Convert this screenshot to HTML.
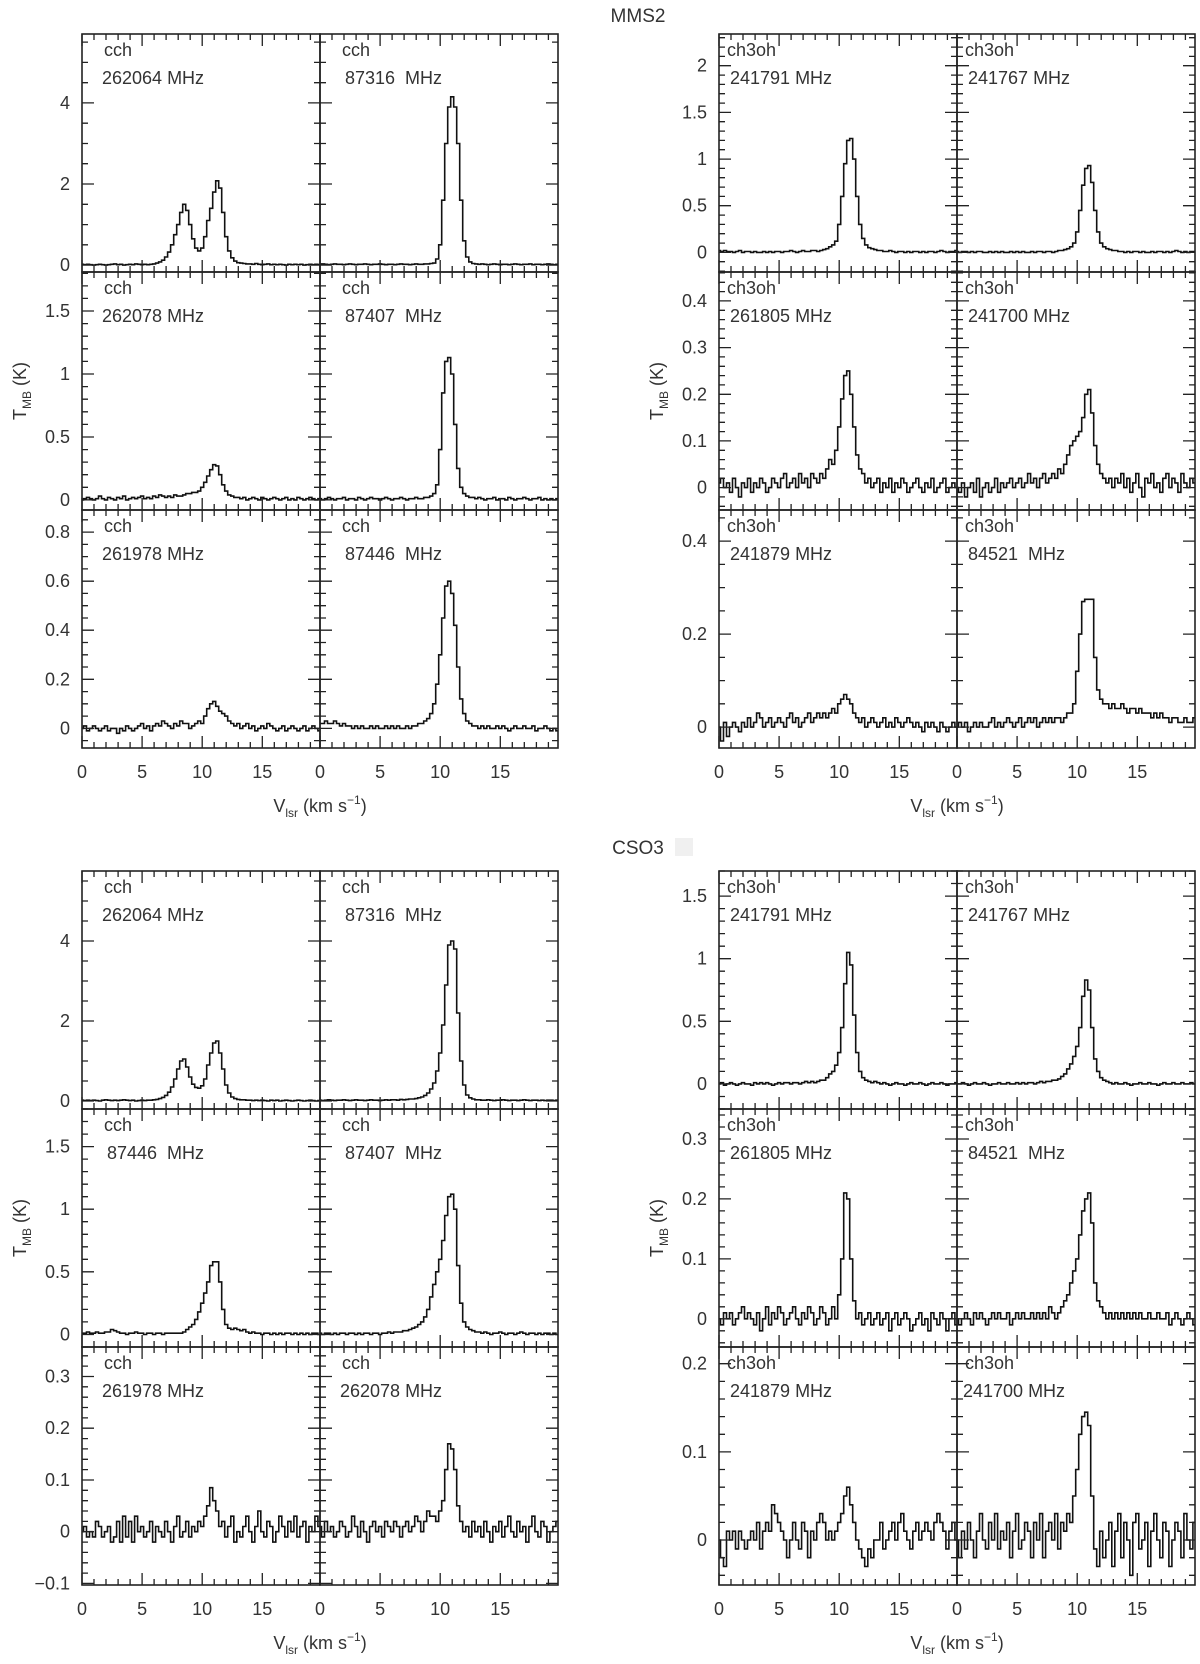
<!DOCTYPE html>
<html><head><meta charset="utf-8">
<style>
html,body{margin:0;padding:0;background:#fff;}
svg{display:block;}
text{font-family:"Liberation Sans",sans-serif;fill:#333;}
</style></head>
<body>
<svg id="fig" width="1200" height="1664" viewBox="0 0 1200 1664" xmlns="http://www.w3.org/2000/svg"></svg>
<script>
// channel width (km/s) and x-axis range
const chanWidth = 0.25;
const xRange = [0, 19.8];
const xTickLabels = ["0","5","10","15"];
const xTickValues = [0,5,10,15];

// ---- MMS2 ----
const mA1 = [0.02,0.01,0.02,0.01,0.0,0.01,0.02,0.01,0,0.01,0.02,0.03,0.01,0.02,0,0.01,0.02,0.01,0.03,0.02,0.01,0.02,0.01,0.02,0.03,0.05,0.08,0.12,0.2,0.32,0.5,0.75,1.0,1.3,1.5,1.35,1.0,0.65,0.42,0.35,0.42,0.7,1.1,1.4,1.8,2.08,1.9,1.3,0.7,0.35,0.18,0.1,0.06,0.05,0.04,0.03,0.03,0.02,0.04,0.02,0.01,0.02,0.03,0.01,0.02,0.01,0.02,0.01,0.0,0.02,0.01,0.02,0.01,0.02,0.0,0.01,0.02,0.01,0.02,0.01];
const mA2 = [0.02,0.03,0.02,0.01,0.02,0.03,0.02,0.02,0.01,0.02,0.03,0.02,0.01,0.02,0.02,0.03,0.02,0.01,0.02,0.02,0.03,0.02,0.01,0.02,0.02,0.01,0.02,0.03,0.02,0.02,0.01,0.02,0.03,0.02,0.02,0.03,0.03,0.04,0.05,0.15,0.5,1.6,3.0,3.9,4.15,3.9,3.0,1.6,0.6,0.2,0.08,0.04,0.03,0.02,0.03,0.02,0.01,0.02,0.03,0.02,0.01,0.02,0.02,0.01,0.02,0.03,0.02,0.01,0.02,0.02,0.03,0.01,0.02,0.02,0.01,0.02,0.03,0.02,0.01,0.02];
const mB1 = [0.0,0.01,0.02,0.01,0.0,0.01,0.03,0.01,0.0,0.02,0.01,0.0,0.02,0.01,0.03,0.0,0.01,0.02,0.01,0.02,0.03,0.01,0.02,0.01,0.03,0.02,0.04,0.03,0.02,0.03,0.02,0.04,0.03,0.03,0.04,0.05,0.05,0.06,0.06,0.07,0.1,0.14,0.19,0.24,0.28,0.27,0.2,0.12,0.07,0.04,0.03,0.02,0.02,0.01,0.02,0.0,0.01,0.02,0.01,0.0,0.02,0.01,0.0,0.01,0.02,0.01,0.0,0.01,0.02,0.0,0.01,0.0,0.02,0.01,0.0,0.01,0.02,0.01,0.0,0.01];
const mB2 = [0.01,0.0,0.01,0.02,0.01,0.0,0.01,0.01,0.02,0.0,0.01,0.01,0.0,0.02,0.01,0.0,0.01,0.02,0.01,0.01,0.0,0.01,0.02,0.01,0.0,0.01,0.01,0.02,0.01,0.0,0.01,0.01,0.02,0.01,0.01,0.02,0.02,0.03,0.05,0.12,0.4,0.85,1.1,1.13,1.0,0.6,0.25,0.1,0.05,0.03,0.02,0.02,0.01,0.02,0.01,0.0,0.01,0.01,0.02,0.0,0.01,0.01,0.0,0.02,0.01,0.0,0.01,0.01,0.02,0.01,0.0,0.01,0.01,0.02,0.0,0.01,0.0,0.01,0.0,0.01];
const mC1 = [0.0,0.01,-0.01,0.0,0.01,0.0,-0.01,0.0,0.01,-0.01,0.0,0.0,-0.02,0.0,-0.01,0.01,0.0,-0.01,0.0,0.01,0.02,0.0,0.01,-0.01,0.01,0.02,0.01,0.03,0.02,0.01,0.0,0.02,0.01,0.03,0.02,0.02,0.0,0.01,0.02,0.03,0.02,0.05,0.08,0.1,0.11,0.09,0.07,0.06,0.05,0.03,0.02,0.01,0.02,0.0,0.01,0.02,0.0,0.01,-0.01,0.0,0.01,0.0,0.02,0.01,0.0,-0.01,0.0,0.01,-0.01,0.0,0.01,0.0,-0.01,0.0,0.01,-0.01,0.0,0.01,0.0,-0.01];
const mC2 = [0.02,0.02,0.03,0.02,0.02,0.03,0.02,0.01,0.02,0.01,0.01,0.0,0.01,0.0,0.01,0.0,0.0,0.01,0.0,0.01,0.0,0.0,0.01,0.0,0.01,0.0,0.01,0.0,0.0,0.01,0.0,0.01,0.01,0.02,0.02,0.03,0.04,0.06,0.1,0.18,0.3,0.45,0.58,0.6,0.55,0.42,0.25,0.12,0.06,0.03,0.02,0.01,0.01,0.0,0.01,0.0,0.01,0.0,0.0,0.01,0.0,0.01,0.0,-0.01,0.0,0.01,0.0,0.0,0.01,0.0,0.0,0.01,-0.01,0.0,0.0,0.01,0.0,-0.01,0.0,-0.01];
const mD1 = [0.02,0.01,0.02,0.01,0.01,0.0,0.01,0.02,0.0,0.01,0.01,0.0,0.01,0.0,0.0,0.01,0.0,0.01,0.0,0.01,0.01,0.0,0.01,0.01,0.02,0.01,0.0,0.01,0.02,0.01,0.01,0.02,0.02,0.01,0.02,0.03,0.04,0.06,0.08,0.12,0.3,0.6,0.95,1.2,1.22,1.0,0.6,0.3,0.15,0.08,0.05,0.04,0.03,0.02,0.02,0.01,0.01,0.02,0.01,0.0,0.01,0.01,0.0,0.01,0.0,0.01,0.01,0.0,0.01,0.0,0.01,0.01,0.0,0.01,0.02,0.01,0.0,0.01,0.01,0.02];
const mD2 = [0.01,0.0,0.01,0.01,0.0,0.01,0.0,0.01,0.01,0.0,0.0,0.01,0.0,0.01,0.0,0.01,0.0,0.0,0.01,0.0,0.01,0.0,0.01,0.0,0.0,0.01,0.0,0.01,0.01,0.0,0.01,0.01,0.0,0.01,0.02,0.02,0.03,0.04,0.06,0.1,0.22,0.45,0.72,0.9,0.93,0.75,0.45,0.22,0.1,0.06,0.04,0.03,0.02,0.02,0.01,0.01,0.0,0.01,0.0,0.01,0.01,0.0,0.01,0.0,0.0,0.01,0.0,0.01,0.01,0.0,0.01,0.0,0.01,0.02,0.01,0.0,0.01,0.0,0.01,0.01];
const mE1 = [0.01,0.02,0.0,0.01,-0.01,0.02,0.0,-0.02,0.01,0.0,0.02,-0.01,0.01,0.0,0.02,0.01,-0.01,0.0,0.02,0.01,0.0,0.02,0.03,0.0,0.01,0.02,0.0,0.03,0.01,0.02,0.0,0.03,0.02,0.01,0.03,0.02,0.04,0.06,0.05,0.08,0.13,0.19,0.24,0.25,0.2,0.13,0.07,0.04,0.03,0.01,0.02,0.0,0.01,0.02,-0.01,0.01,0.0,0.02,-0.01,0.01,0.0,0.02,0.01,-0.01,0.0,0.01,0.02,0.0,-0.01,0.01,0.0,0.02,-0.01,0.0,0.01,0.02,-0.01,0.0,0.01,0.0];
const mE2 = [0.0,-0.01,0.01,-0.02,0.0,0.01,-0.01,0.02,-0.02,0.0,0.01,-0.01,0.0,0.02,-0.01,0.01,0.0,0.01,0.02,0.0,0.01,0.02,0.0,0.01,0.03,0.01,0.02,0.0,0.02,0.03,0.01,0.02,0.03,0.02,0.04,0.03,0.05,0.07,0.09,0.1,0.11,0.12,0.15,0.2,0.21,0.16,0.09,0.05,0.03,0.02,0.01,0.02,0.0,0.02,0.01,0.03,0.0,0.02,-0.01,0.01,0.03,0.0,-0.02,0.02,0.01,0.03,0.0,0.01,-0.01,0.02,0.03,0.0,0.02,0.01,-0.01,0.03,0.01,0.0,0.02,0.01];
const mF1 = [0.0,-0.03,0.01,-0.02,0.0,0.01,0.0,-0.01,0.01,0.0,0.02,0.0,0.01,0.03,0.02,0.0,0.01,0.02,0.0,0.01,0.02,0.01,0.0,0.02,0.03,0.01,0.02,0.0,0.01,0.02,0.03,0.01,0.02,0.03,0.02,0.03,0.02,0.03,0.04,0.03,0.05,0.06,0.07,0.06,0.05,0.03,0.02,0.01,0.02,0.0,0.01,0.02,0.01,0.0,0.01,0.02,0.0,0.01,0.0,0.02,0.01,0.0,0.01,0.02,0.01,0.0,0.01,0.0,-0.01,0.01,0.0,0.01,0.0,-0.01,0.01,0.0,-0.01,0.0,0.01,0.0];
const mF2 = [0.0,0.01,0.0,0.01,-0.01,0.0,0.01,0.0,0.01,0.0,0.0,0.01,0.02,0.0,0.01,0.0,0.01,0.02,0.01,0.0,0.01,0.02,0.0,0.01,0.02,0.01,0.02,0.0,0.01,0.02,0.01,0.02,0.01,0.02,0.02,0.01,0.02,0.03,0.03,0.05,0.12,0.2,0.27,0.275,0.275,0.275,0.15,0.08,0.06,0.05,0.05,0.04,0.05,0.04,0.04,0.05,0.04,0.03,0.04,0.04,0.03,0.04,0.03,0.03,0.03,0.02,0.03,0.02,0.03,0.02,0.02,0.01,0.02,0.02,0.01,0.01,0.02,0.01,0.01,0.02];

// ---- CSO3 ----
const cA1 = [0.02,0.01,0.02,0.01,0.02,0.01,0.0,0.02,0.03,0.02,0.01,0.02,0.01,0.02,0.03,0.02,0.01,0.02,0.0,0.01,0.02,0.01,0.02,0.02,0.03,0.04,0.06,0.09,0.14,0.22,0.35,0.55,0.8,1.0,1.05,0.85,0.6,0.42,0.34,0.32,0.38,0.55,0.9,1.2,1.45,1.5,1.2,0.8,0.4,0.2,0.1,0.06,0.04,0.03,0.03,0.02,0.02,0.01,0.02,0.01,0.02,0.01,0.0,0.02,0.01,0.02,0.0,0.01,0.02,0.01,0.0,0.01,0.02,0.01,0.0,0.01,0.02,0.01,0.0,0.01];
const cA2 = [0.02,0.01,0.02,0.03,0.02,0.01,0.02,0.02,0.03,0.02,0.01,0.02,0.03,0.02,0.02,0.01,0.02,0.03,0.02,0.02,0.01,0.02,0.03,0.02,0.03,0.03,0.02,0.04,0.03,0.04,0.05,0.05,0.06,0.08,0.1,0.14,0.2,0.3,0.45,0.75,1.2,1.9,2.9,3.9,4.0,3.8,2.2,1.0,0.4,0.15,0.08,0.05,0.03,0.03,0.02,0.02,0.03,0.02,0.01,0.02,0.02,0.03,0.02,0.01,0.02,0.02,0.01,0.02,0.03,0.02,0.01,0.02,0.02,0.01,0.02,0.01,0.02,0.02,0.01,0.02];
const cB1 = [0.01,0.01,0.02,0.01,0.01,0.02,0.01,0.01,0.02,0.02,0.04,0.03,0.02,0.01,0.01,0.0,0.01,0.01,0.02,0.01,0.01,0.0,0.01,0.01,0.0,0.01,0.01,0.0,0.01,0.01,0.01,0.01,0.01,0.01,0.02,0.04,0.06,0.08,0.12,0.18,0.25,0.33,0.42,0.55,0.58,0.58,0.42,0.2,0.08,0.05,0.04,0.05,0.04,0.03,0.04,0.02,0.01,0.02,0.01,0.01,0.0,0.01,0.01,0.0,0.01,0.0,0.01,0.0,0.01,0.01,0.0,0.01,0.0,0.01,0.0,0.01,0.0,0.01,0.01,0.0];
const cB2 = [0.01,0.0,0.01,0.01,0.0,0.01,0.0,0.01,0.01,0.0,0.01,0.01,0.0,0.01,0.0,0.01,0.01,0.0,0.01,0.01,0.0,0.01,0.01,0.02,0.01,0.02,0.02,0.02,0.03,0.03,0.04,0.05,0.06,0.08,0.1,0.14,0.2,0.3,0.4,0.5,0.6,0.75,0.95,1.1,1.12,1.0,0.55,0.25,0.1,0.06,0.04,0.03,0.02,0.02,0.01,0.02,0.01,0.0,0.01,0.01,0.02,0.01,0.0,0.01,0.01,0.0,0.01,0.02,0.01,0.0,0.01,0.01,0.0,0.01,0.0,0.01,0.01,0.0,0.01,0.0];
const cC1 = [0.0,0.01,-0.01,0.0,-0.01,0.02,0.01,-0.01,0.0,0.01,-0.02,-0.01,0.02,-0.02,0.03,-0.01,0.02,-0.02,0.03,0.0,0.01,-0.01,0.0,0.02,-0.02,0.01,0.0,-0.01,0.02,0.0,-0.02,0.01,0.03,-0.01,0.0,0.02,-0.01,0.01,0.0,0.02,0.01,0.03,0.05,0.085,0.06,0.04,0.01,0.02,-0.01,0.01,0.03,-0.02,0.0,-0.01,0.01,0.03,0.0,-0.02,0.01,0.04,0.0,-0.01,0.02,0.01,-0.02,0.0,0.03,0.01,-0.01,0.02,0.0,0.03,-0.01,0.01,0.02,-0.02,0.01,0.0,0.03,0.01];
const cC2 = [0.01,-0.01,0.02,0.0,0.01,-0.01,0.0,0.02,0.01,-0.01,0.0,0.03,0.01,-0.01,0.02,0.0,-0.02,0.01,0.02,0.0,0.01,-0.01,0.02,0.01,0.0,0.02,0.01,-0.01,0.01,0.02,0.0,0.01,0.03,0.02,0.0,0.02,0.04,0.03,0.03,0.02,0.04,0.06,0.12,0.17,0.16,0.12,0.05,0.02,0.0,0.01,-0.01,0.02,0.0,0.01,-0.01,0.02,0.0,-0.02,0.01,0.0,0.02,-0.01,0.01,0.03,0.0,-0.01,0.02,0.0,0.01,-0.02,0.01,0.03,0.0,-0.01,0.02,0.01,-0.02,0.0,0.01,0.02];
const cD1 = [0.0,0.01,-0.01,0.0,0.01,0.0,-0.01,0.0,0.01,0.0,0.0,-0.01,0.01,0.0,0.01,0.0,0.01,0.0,-0.01,0.0,0.01,0.0,0.01,0.01,0.0,0.01,0.01,0.0,0.01,0.02,0.01,0.02,0.01,0.02,0.03,0.03,0.05,0.08,0.1,0.15,0.25,0.45,0.8,1.05,0.95,0.55,0.25,0.1,0.05,0.03,0.02,0.01,0.02,0.01,0.0,0.01,0.0,-0.01,0.0,0.01,0.0,0.0,-0.01,0.0,0.01,0.0,0.0,0.01,0.0,-0.01,0.0,0.01,0.0,0.0,0.01,0.0,-0.01,0.0,0.0,0.01];
const cD2 = [0.0,0.0,0.01,0.0,-0.01,0.0,0.01,0.0,0.0,0.01,0.0,-0.01,0.0,0.0,0.01,0.0,0.0,0.01,0.0,0.0,0.01,0.0,0.01,0.0,0.01,0.01,0.0,0.01,0.02,0.01,0.02,0.02,0.03,0.03,0.04,0.06,0.08,0.12,0.16,0.22,0.3,0.45,0.7,0.83,0.75,0.45,0.2,0.1,0.05,0.03,0.02,0.01,0.0,0.01,0.0,0.0,0.01,0.0,-0.01,0.0,0.0,0.01,0.0,0.0,0.01,0.0,0.0,-0.01,0.0,0.01,0.0,0.0,0.01,0.0,0.0,0.01,0.0,0.0,0.01,0.0];
const cE1 = [0.0,-0.01,0.01,0.0,0.01,-0.01,0.0,0.01,0.02,0.0,0.01,0.0,-0.01,0.01,-0.02,0.0,0.02,-0.01,0.01,0.0,0.02,0.01,-0.01,0.0,0.01,0.02,0.0,-0.01,0.01,0.0,0.02,0.01,-0.01,0.0,0.02,0.01,-0.01,0.0,0.02,0.0,0.04,0.1,0.21,0.2,0.1,0.03,0.0,0.01,-0.01,0.0,0.01,-0.01,0.0,0.01,-0.01,0.0,0.01,-0.02,0.0,0.01,-0.01,0.0,0.01,0.0,-0.02,-0.01,0.0,0.01,-0.01,0.0,-0.02,0.01,0.0,-0.01,0.01,0.0,-0.02,0.0,0.01,-0.01];
const cE2 = [0.0,-0.01,0.0,0.01,0.0,-0.01,0.01,0.0,0.01,0.0,-0.01,0.0,0.01,0.0,0.01,0.0,0.0,0.01,-0.01,0.0,0.01,0.0,0.01,0.0,0.0,0.01,0.0,0.01,0.0,0.01,0.0,0.02,0.01,0.0,0.01,0.02,0.03,0.04,0.06,0.08,0.1,0.14,0.18,0.2,0.21,0.16,0.06,0.03,0.02,0.01,0.0,0.01,0.0,0.01,0.0,0.01,0.0,0.01,0.0,0.01,0.0,0.01,0.0,0.0,0.01,0.0,0.0,0.01,0.0,0.0,0.01,-0.01,0.0,0.01,0.0,-0.01,0.0,0.01,0.0,-0.01];
const cF1 = [0.0,-0.02,-0.03,0.01,0.0,0.01,-0.01,0.01,0.0,-0.01,0.0,0.01,0.0,0.02,-0.01,0.01,0.02,0.01,0.04,0.03,0.02,0.01,0.0,-0.02,0.0,0.02,0.0,-0.01,0.02,0.01,-0.02,0.01,0.0,0.02,0.03,0.02,0.0,0.01,0.0,0.01,0.02,0.03,0.05,0.06,0.04,0.02,0.0,-0.01,-0.02,-0.03,-0.01,-0.02,0.0,0.0,0.02,-0.01,0.0,0.01,0.02,0.0,0.02,0.03,0.01,0.0,-0.01,0.01,0.02,0.0,0.01,0.02,0.01,0.0,0.02,0.03,0.02,0.01,-0.01,0.01,0.02,0.0];
const cF2 = [0.0,-0.02,0.01,-0.01,0.02,0.0,-0.02,0.01,0.03,0.0,-0.01,0.02,0.0,0.03,-0.01,0.01,0.0,0.02,-0.02,0.01,0.03,-0.01,0.0,0.02,0.01,-0.02,0.02,0.0,0.03,-0.02,0.01,0.02,0.0,0.03,-0.01,0.02,0.01,0.03,0.02,0.05,0.08,0.12,0.14,0.145,0.13,0.05,-0.01,-0.03,0.01,-0.02,0.0,0.02,-0.03,0.01,0.03,-0.02,0.02,0.0,-0.04,0.02,0.03,-0.01,0.0,0.02,-0.03,0.01,0.03,0.0,-0.02,0.02,0.01,-0.03,0.0,0.02,0.01,-0.02,0.03,0.0,-0.01,0.02];

// panel labels
const mLabels = [["cch","262064 MHz"],["cch"," 87316  MHz"],["cch","262078 MHz"],["cch"," 87407  MHz"],["cch","261978 MHz"],["cch"," 87446  MHz"],
                 ["ch3oh"," 241791 MHz"],["ch3oh"," 241767 MHz"],["ch3oh"," 261805 MHz"],["ch3oh"," 241700 MHz"],["ch3oh"," 241879 MHz"],["ch3oh"," 84521  MHz"]];
const cLabels = [["cch","262064 MHz"],["cch"," 87316  MHz"],["cch"," 87446  MHz"],["cch"," 87407  MHz"],["cch","261978 MHz"],["cch","262078 MHz"],
                 ["ch3oh"," 241791 MHz"],["ch3oh"," 241767 MHz"],["ch3oh"," 261805 MHz"],["ch3oh"," 84521  MHz"],["ch3oh"," 241879 MHz"],["ch3oh","241700 MHz"]];

// y ranges [min,max,major,minor,decimals] per row
const mLeftY  = [[-0.17,5.7,2,0.5,0],[-0.08,1.81,0.5,0.1,1],[-0.08,0.89,0.2,0.05,1]];
const mRightY = [[-0.21,2.34,0.5,0.1,1],[-0.048,0.462,0.1,0.02,1],[-0.045,0.467,0.2,0.05,1]];
const cLeftY  = [[-0.2,5.75,2,0.5,0],[-0.1,1.8,0.5,0.1,1],[-0.103,0.357,0.1,0.02,1]];
const cRightY = [[-0.2,1.7,0.5,0.1,1],[-0.047,0.35,0.1,0.02,1],[-0.051,0.219,0.1,0.02,1]];

const NS = "http://www.w3.org/2000/svg";
const svg = document.getElementById('fig');
function mk(tag, attrs, parent){ const e=document.createElementNS(NS,tag); for(const k in attrs) e.setAttribute(k,attrs[k]); (parent||svg).appendChild(e); return e; }
function fmt(v,d){ if(Math.abs(v)<1e-9) return "0"; let s=v.toFixed(d); if(d>0){ s=s.replace(/0+$/,'').replace(/\.$/,''); } return s.replace('-', '\u2212'); }

const PW = 238, PH = 238;

function drawPanel(x0,y0,data,yr,lab,showY,showX,indent,rowIdx){
  const g = mk('g',{});
  
  
  const [ymin,ymax,maj,mnr,dec] = yr;
  const sx = v => x0 + (v - xRange[0])/(xRange[1]-xRange[0])*PW;
  const sy = v => y0 + PH - (v - ymin)/(ymax-ymin)*PH;
  // clip
  const cid = 'c'+Math.round(x0)+'_'+Math.round(y0);
  const cp = mk('clipPath',{id:cid},g); mk('rect',{x:x0,y:y0,width:PW,height:PH},cp);
  // spectrum
  let d='';
  data.forEach((val,i)=>{
    const xa=sx(i*chanWidth-chanWidth/2), xb=sx(i*chanWidth+chanWidth/2), yy=sy(val);
    d += (i===0?'M':'L')+xa.toFixed(1)+','+yy.toFixed(1)+'L'+xb.toFixed(1)+','+yy.toFixed(1);
  });
  const p = mk('path',{d:d,fill:'none',stroke:'#111','stroke-width':1.6,'clip-path':'url(#'+cid+')'},g);
  
  
  // frame
  const fr = mk('rect',{x:x0,y:y0,width:PW,height:PH,fill:'none',stroke:'#222','stroke-width':1.6},g);
  
  
  // ticks
  let td='';
  for(let v=0; v<=xRange[1]+1e-6; v+=1){
    const isMaj = Math.abs(v%5)<1e-6; const L = isMaj?12:6; const xx=sx(v).toFixed(1);
    td+=`M${xx},${y0+PH}v${-L}M${xx},${y0}v${L}`;
  }
  const k0=Math.ceil(ymin/mnr-1e-6), k1=Math.floor(ymax/mnr+1e-6);
  for(let k=k0;k<=k1;k++){
    const v=k*mnr; const isMaj=Math.abs(v/maj-Math.round(v/maj))<1e-6; const L=isMaj?12:6; const yy=sy(v).toFixed(1);
    td+=`M${x0},${yy}h${L}M${x0+PW},${yy}h${-L}`;
    if(isMaj && showY){
      const t=mk('text',{x:x0-12,y:(+yy+6),'text-anchor':'end','font-size':18},g);
      t.textContent=fmt(v,dec);
      
      
    }
  }
  mk('path',{d:td,stroke:'#222','stroke-width':1.3,fill:'none'},g);
  if(showX){
    xTickValues.forEach((v,i)=>{
      const t=mk('text',{x:sx(v),y:y0+PH+30,'text-anchor':'middle','font-size':18},g);
      t.textContent=xTickLabels[i];
      
      
    });
  }
  const t1=mk('text',{x:x0+indent,y:y0+22,'font-size':18,'xml:space':'preserve'},g);
  t1.textContent=lab[0];
  
  
  const t2=mk('text',{x:x0+indent-2,y:y0+50,'font-size':18,'xml:space':'preserve'},g);
  t2.style.whiteSpace='pre';
  t2.textContent=lab[1];
  
  
}

function drawBlock(top,leftX,rightX,sets,labels,leftY,rightY){
  const leftSets=sets.slice(0,6), rightSets=sets.slice(6);
  for(let r=0;r<3;r++){
    for(let c=0;c<2;c++){
      drawPanel(leftX+c*PW, top+r*PH, leftSets[r*2+c], leftY[r], labels[r*2+c], c===0, r===2, 22, r);
      drawPanel(rightX+c*PW, top+r*PH, rightSets[r*2+c], rightY[r], labels[6+r*2+c], c===0, r===2, 8, r);
    }
  }
  // axis titles
  [[leftX,20],[rightX,rightX-62]].forEach(([bx,tx])=>{
    const t=mk('text',{x:bx+PW,y:top+3*PH+64,'text-anchor':'middle','font-size':18});
    t.innerHTML='V<tspan font-size="12" dy="5">lsr</tspan><tspan dy="-5">  (km s</tspan><tspan font-size="12" dy="-8">\u22121</tspan><tspan dy="8">)</tspan>';
    
    
    const yt=mk('text',{x:0,y:0,'text-anchor':'middle','font-size':18,transform:`translate(${tx+6},${top+1.5*PH}) rotate(-90)`});
    yt.innerHTML='T<tspan font-size="12" dy="5">MB</tspan><tspan dy="-5"> (K)</tspan>';
    
    
  });
}

const tt1=mk('text',{x:638,y:22,'text-anchor':'middle','font-size':19});
tt1.textContent='MMS2';


const tt2=mk('text',{x:638,y:854,'text-anchor':'middle','font-size':19});
tt2.textContent='CSO3';


mk('rect',{x:675,y:838,width:18,height:18,fill:'#f0f0f0'});

drawBlock(34,82,719,[mA1,mA2,mB1,mB2,mC1,mC2,mD1,mD2,mE1,mE2,mF1,mF2],mLabels,mLeftY,mRightY);
drawBlock(871,82,719,[cA1,cA2,cB1,cB2,cC1,cC2,cD1,cD2,cE1,cE2,cF1,cF2],cLabels,cLeftY,cRightY);
</script>
</body></html>
